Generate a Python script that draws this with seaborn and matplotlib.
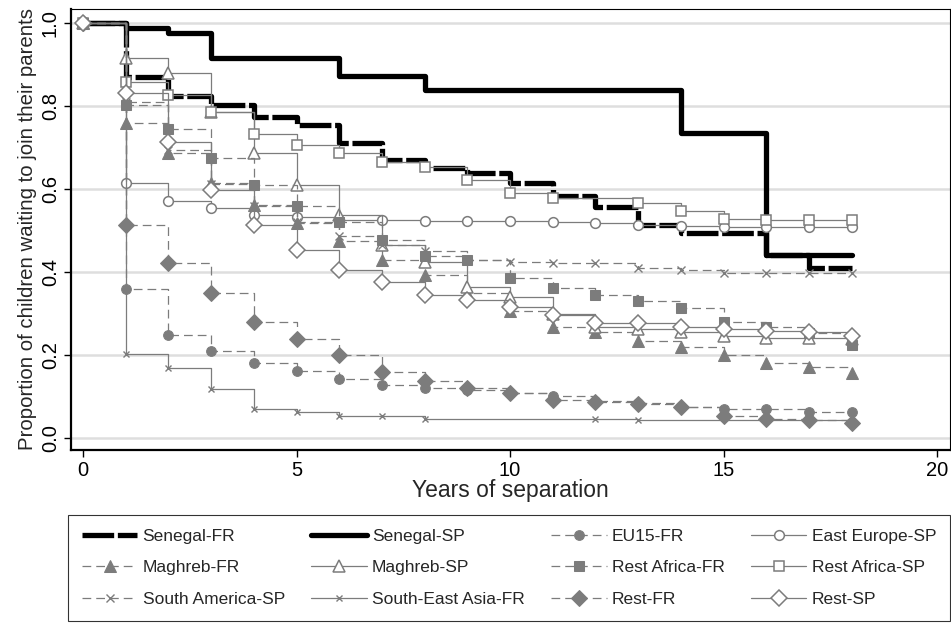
import matplotlib
matplotlib.use("Agg")
import matplotlib.pyplot as plt
import seaborn as sns
from matplotlib import font_manager

# ---------------- data ----------------
years_all = list(range(0, 19))

t_senegal_fr = [0, 1, 2, 3, 4, 5, 6, 7, 8, 9, 10, 11, 12, 13, 14, 16, 17, 18]
s_senegal_fr = [1.0, 0.870, 0.825, 0.802, 0.774, 0.754, 0.710, 0.670, 0.650, 0.638,
                0.615, 0.583, 0.557, 0.513, 0.494, 0.440, 0.410, 0.410]

t_senegal_sp = [0, 1, 2, 3, 6, 8, 14, 16, 18]
s_senegal_sp = [1.0, 0.988, 0.976, 0.916, 0.872, 0.839, 0.735, 0.440, 0.440]

s_eu15_fr = [1.0, 0.359, 0.248, 0.210, 0.180, 0.161, 0.143, 0.128, 0.120, 0.115,
             0.108, 0.100, 0.090, 0.085, 0.075, 0.070, 0.070, 0.063, 0.063]

s_east_europe_sp = [1.0, 0.614, 0.571, 0.554, 0.537, 0.532, 0.525, 0.525, 0.523, 0.522,
                    0.522, 0.520, 0.518, 0.513, 0.510, 0.509, 0.509, 0.509, 0.509]

s_maghreb_fr = [1.0, 0.759, 0.687, 0.614, 0.561, 0.518, 0.475, 0.429, 0.393, 0.349,
                0.306, 0.267, 0.255, 0.233, 0.219, 0.200, 0.181, 0.172, 0.157]

s_maghreb_sp = [1.0, 0.915, 0.879, 0.785, 0.687, 0.610, 0.537, 0.465, 0.424, 0.364,
                0.340, 0.300, 0.268, 0.262, 0.255, 0.245, 0.240, 0.240, 0.238]

s_rest_africa_fr = [1.0, 0.802, 0.745, 0.674, 0.610, 0.558, 0.520, 0.477, 0.439, 0.429,
                    0.385, 0.362, 0.345, 0.330, 0.313, 0.280, 0.268, 0.253, 0.224]

t_rest_africa_sp = [0, 1, 2, 3, 4, 5, 6, 7, 8, 9, 10, 11, 13, 14, 15, 16, 17, 18]
s_rest_africa_sp = [1.0, 0.858, 0.826, 0.785, 0.732, 0.706, 0.687, 0.665, 0.653, 0.622,
                    0.590, 0.578, 0.566, 0.547, 0.528, 0.525, 0.525, 0.525]

s_south_america_sp = [1.0, 0.810, 0.695, 0.612, 0.560, 0.520, 0.487, 0.465, 0.450, 0.430,
                      0.424, 0.422, 0.421, 0.410, 0.405, 0.398, 0.398, 0.398, 0.398]

t_se_asia_fr = [0, 1, 2, 3, 4, 5, 6, 7, 8, 12, 13, 18]
s_se_asia_fr = [1.0, 0.202, 0.169, 0.118, 0.070, 0.063, 0.054, 0.052, 0.046, 0.046,
                0.044, 0.044]

s_rest_fr = [1.0, 0.513, 0.422, 0.349, 0.279, 0.239, 0.200, 0.159, 0.137, 0.120,
             0.108, 0.092, 0.086, 0.083, 0.075, 0.052, 0.045, 0.043, 0.035]

s_rest_sp = [1.0, 0.831, 0.713, 0.598, 0.513, 0.452, 0.405, 0.376, 0.345, 0.333,
             0.316, 0.296, 0.278, 0.276, 0.268, 0.262, 0.258, 0.256, 0.246]

labels = ["Senegal-FR", "Senegal-SP", "EU15-FR", "East Europe-SP",
          "Maghreb-FR", "Maghreb-SP", "Rest Africa-FR", "Rest Africa-SP",
          "South America-SP", "South-East Asia-FR", "Rest-FR", "Rest-SP"]

x_ticks = [0, 5, 10, 15, 20]
y_ticks = [0.0, 0.2, 0.4, 0.6, 0.8, 1.0]
y_tick_labels = ["0.0", "0.2", "0.4", "0.6", "0.8", "1.0"]

# ---------------- style ----------------
sns.set_theme(style="white")
fams = [f.name for f in font_manager.fontManager.ttflist]
base = "Liberation Sans Narrow" if "Liberation Sans Narrow" in fams else "Liberation Sans"
plt.rcParams["font.family"] = [base, "DejaVu Sans"]

GREY = "#7c7c7c"
DASH = (0, (7, 4))

fig = plt.figure(figsize=(9.51, 6.23), dpi=100)
ax = fig.add_axes([71 / 951, 1 - 450 / 623, (950 - 71) / 951, (450 - 9) / 623])

series = [
    (t_senegal_fr, s_senegal_fr, dict(color="black", lw=3.8, linestyle=(0, (6, 0.7)), marker=None)),
    (t_senegal_sp, s_senegal_sp, dict(color="black", lw=3.8, linestyle="-", marker=None)),
    (years_all, s_eu15_fr, dict(color=GREY, lw=0.9, linestyle=DASH, marker="o", ms=7,
                                mfc=GREY, mec=GREY)),
    (years_all, s_east_europe_sp, dict(color=GREY, lw=0.9, linestyle="-", marker="o", ms=7,
                                       mfc="white", mec=GREY, mew=1.1)),
    (years_all, s_maghreb_fr, dict(color=GREY, lw=0.9, linestyle=DASH, marker="^", ms=8,
                                   mfc=GREY, mec=GREY)),
    (years_all, s_maghreb_sp, dict(color=GREY, lw=0.9, linestyle="-", marker="^", ms=8,
                                   mfc="white", mec=GREY, mew=1.1)),
    (years_all, s_rest_africa_fr, dict(color=GREY, lw=0.9, linestyle=DASH, marker="s", ms=7,
                                       mfc=GREY, mec=GREY)),
    (t_rest_africa_sp, s_rest_africa_sp, dict(color=GREY, lw=0.9, linestyle="-", marker="s", ms=7,
                                              mfc="white", mec=GREY, mew=1.1)),
    (years_all, s_south_america_sp, dict(color=GREY, lw=0.9, linestyle=DASH, marker="x", ms=6,
                                         mec=GREY, mew=1.0)),
    (t_se_asia_fr, s_se_asia_fr, dict(color=GREY, lw=0.9, linestyle="-", marker="x", ms=5,
                                      mec=GREY, mew=1.0, markevery=list(range(len(t_se_asia_fr) - 1)))),
    (years_all, s_rest_fr, dict(color=GREY, lw=0.9, linestyle=DASH, marker="D", ms=8,
                                mfc=GREY, mec=GREY)),
    (years_all, s_rest_sp, dict(color=GREY, lw=0.9, linestyle="-", marker="D", ms=8,
                                mfc="white", mec=GREY, mew=1.1)),
]

for (t, s, kw), lab in zip(series, labels):
    sns.lineplot(x=t, y=s, ax=ax, drawstyle="steps-post", label=lab, **kw)

ax.set_xlim(-0.28, 20.3)
ax.set_ylim(-0.029, 1.034)
ax.set_xticks(x_ticks)
ax.set_xticklabels([str(v) for v in x_ticks])
ax.set_yticks(y_ticks)
ax.set_yticklabels(y_tick_labels, rotation=90, va="center")
ax.grid(axis="y", color="#dedede", lw=1.8)
ax.grid(axis="x", visible=False)
ax.set_axisbelow(True)
ax.tick_params(axis="both", direction="out", length=5, width=1, colors="black",
               labelsize=14.5, pad=3, left=True, bottom=True)
for side in ["top", "right"]:
    ax.spines[side].set_linewidth(0.8)
    ax.spines[side].set_color("black")
for side in ["left", "bottom"]:
    ax.spines[side].set_linewidth(1.6)
    ax.spines[side].set_color("black")

ax.set_xlabel("Years of separation", fontsize=16.5, labelpad=-1)
ax.set_ylabel("Proportion of children waiting to join their parents", fontsize=14.7, labelpad=3)

handles, labs = ax.get_legend_handles_labels()
ax.get_legend().remove()
order = [0, 4, 8, 1, 5, 9, 2, 6, 10, 3, 7, 11]
leg = fig.legend([handles[i] for i in order], [labs[i] for i in order],
                 loc="lower left", bbox_to_anchor=(68 / 951, 2 / 623, (950 - 68) / 951, (621 - 477) / 623),
                 mode="expand", ncol=4, fontsize=12.5, frameon=True, fancybox=False,
                 edgecolor="black", handlelength=3.2, handletextpad=0.3, borderaxespad=0,
                 labelspacing=0.95, borderpad=0.8, numpoints=1, columnspacing=1.0)
leg.get_frame().set_linewidth(0.8)

fig.savefig("out.png", dpi=100, facecolor="white")
